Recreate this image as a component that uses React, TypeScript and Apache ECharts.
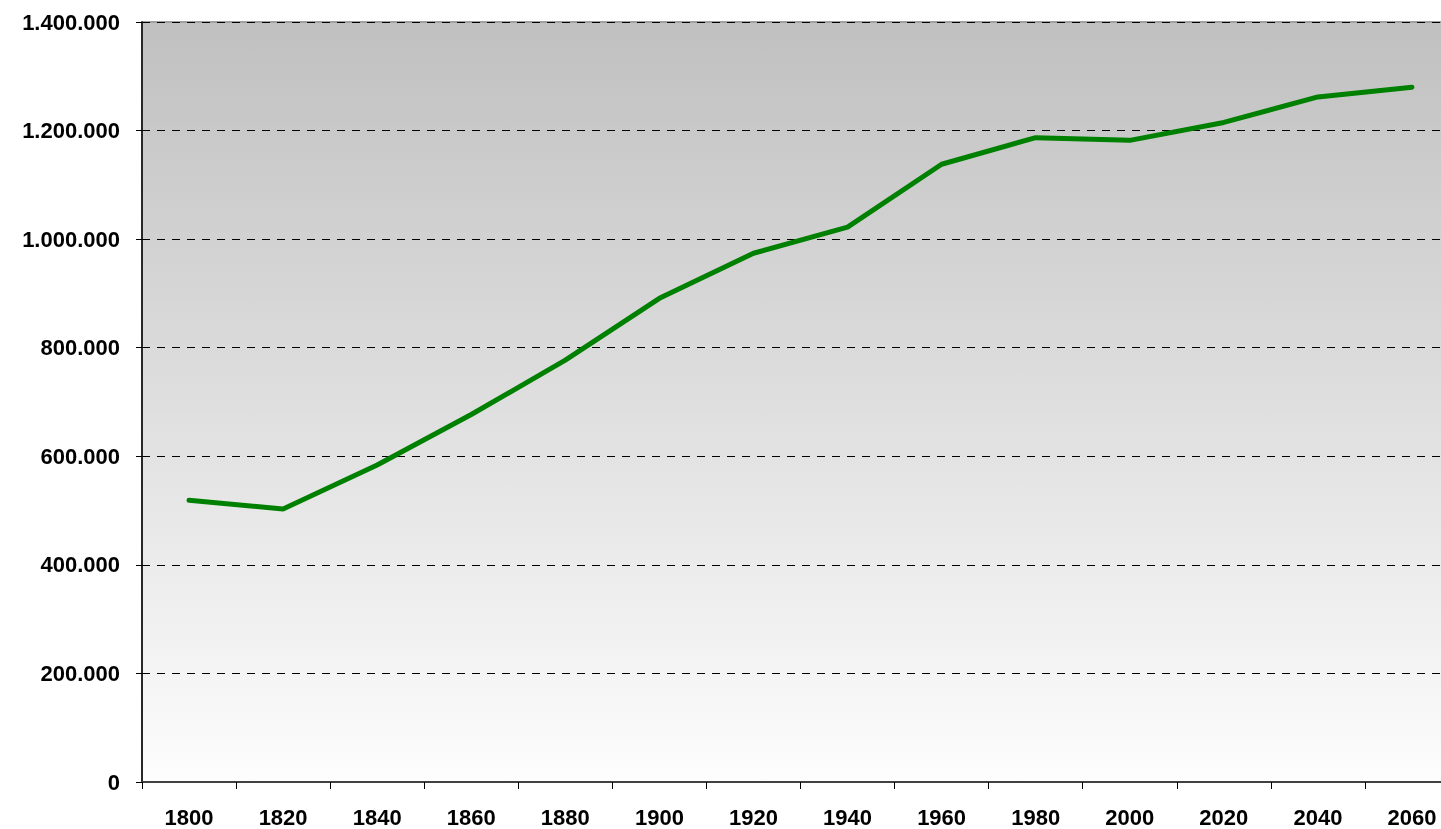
import React, { useEffect, useRef } from "react";
import * as echarts from "echarts";

const years = ["1800", "1820", "1840", "1860", "1880", "1900", "1920", "1940", "1960", "1980", "2000", "2020", "2040", "2060"];
const population = [519000, 503000, 584000, 677000, 777000, 891000, 974000, 1022000, 1138000, 1187000, 1182000, 1215000, 1262000, 1280000];

const fmt = (v: number) => String(Math.round(v)).replace(/\B(?=(\d{3})+(?!\d))/g, ".");

export default function App() {
  const ref = useRef<HTMLDivElement>(null);
  useEffect(() => {
    if (!ref.current) return;
    const chart = echarts.init(ref.current, null, { renderer: "svg" });
    chart.setOption({
      animation: false,
      grid: {
        left: 142,
        right: 0,
        top: 22,
        bottom: 47,
        show: true,
        borderColor: "#a0a0a0",
        borderWidth: 2,
        backgroundColor: new echarts.graphic.LinearGradient(0, 0, 0, 1, [
          { offset: 0, color: "#c0c0c0" },
          { offset: 1, color: "#fdfdfd" },
        ]),
      },
      xAxis: {
        type: "category",
        data: years,
        boundaryGap: true,
        axisLine: { show: true, lineStyle: { color: "#404040", width: 2 } },
        axisTick: { show: true, length: 7, lineStyle: { color: "#000", width: 1 } },
        axisLabel: {
          color: "#000",
          fontFamily: "Liberation Sans, Arial, sans-serif",
          fontWeight: "bold",
          fontSize: 22,
          margin: 24,
        },
        splitLine: { show: false },
      },
      yAxis: {
        type: "value",
        min: 0,
        max: 1400000,
        interval: 200000,
        axisLine: { show: true, lineStyle: { color: "#000", width: 1.5 } },
        axisTick: { show: true, length: 6, lineStyle: { color: "#000" } },
        axisLabel: {
          color: "#000",
          fontFamily: "Liberation Sans, Arial, sans-serif",
          fontWeight: "bold",
          fontSize: 22,
          margin: 22,
          formatter: (v: number) => fmt(v),
        },
        splitLine: { show: true, lineStyle: { color: "#000", type: [8, 7], width: 1 } },
      },
      series: [
        {
          type: "line",
          data: population,
          showSymbol: false,
          symbol: "none",
          lineStyle: { color: "#008000", width: 5, cap: "round" },
          itemStyle: { color: "#008000" },
        },
      ],
    });
    return () => chart.dispose();
  }, []);
  return <div ref={ref} style={{ position: "fixed", left: 0, top: 0, width: 1459, height: 829 }} />;
}
